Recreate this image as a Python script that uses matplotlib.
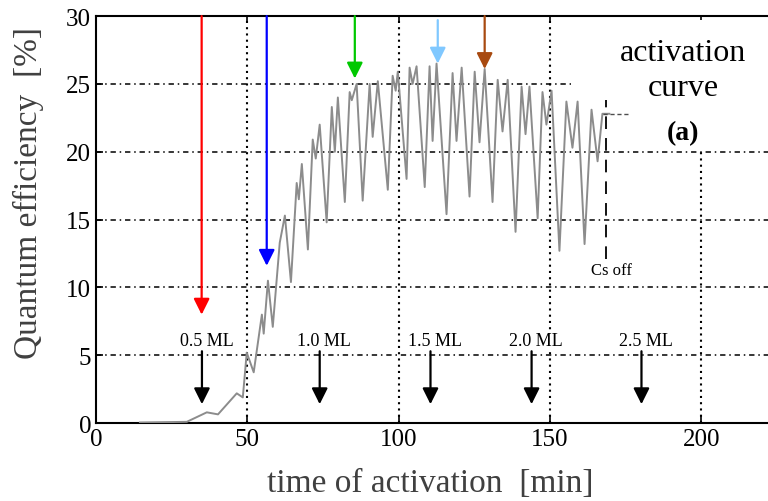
import numpy as np
import matplotlib.pyplot as plt
from matplotlib.patches import Rectangle

plt.rcParams['font.family'] = ['Liberation Serif', 'DejaVu Serif']

# activation curve: time [min] and quantum efficiency [%], read at turning points
t_curve = [14.5, 30.0, 36.6, 40.3, 46.5, 48.5, 49.8, 52.1, 54.8, 55.4,
           56.8, 58.4, 60.7, 62.4, 64.4, 66.3, 67.0, 68.0, 70.0, 71.6,
           72.6, 73.9, 76.2, 77.9, 78.9, 79.9, 82.2, 83.8, 84.5, 86.1,
           88.1, 90.4, 91.4, 93.1, 96.4, 98.0, 99.0, 99.7, 102.6, 103.6,
           104.6, 105.9, 108.6, 110.2, 111.2, 112.5, 115.8, 117.8, 119.1, 120.8,
           123.4, 125.1, 126.7, 128.4, 131.0, 132.7, 134.3, 136.0, 138.6, 140.6,
           141.9, 143.2, 145.9, 147.5, 148.8, 150.5, 153.1, 155.4, 157.4, 159.1,
           161.4, 163.7, 165.7, 167.3, 169.6]
qe_curve = [0.05, 0.1, 0.8, 0.65, 2.2, 1.9, 5.2, 3.75, 8.0, 6.6,
            10.5, 7.1, 13.3, 15.3, 10.4, 17.7, 16.5, 19.1, 12.8, 20.9,
            19.5, 22.0, 14.8, 23.3, 20.0, 24.0, 16.3, 24.4, 23.8, 25.0,
            16.4, 25.0, 21.1, 25.2, 17.2, 25.6, 24.5, 25.9, 18.0, 26.2,
            25.0, 26.3, 17.4, 26.3, 20.8, 26.5, 15.4, 25.8, 20.8, 26.2,
            16.7, 25.9, 20.7, 26.1, 16.3, 25.3, 21.5, 25.3, 14.1, 24.8,
            21.3, 24.8, 15.1, 24.4, 22.0, 24.5, 12.7, 23.7, 20.3, 23.7,
            13.2, 23.1, 19.3, 22.8, 22.8]

# coloured marker arrows: position, tip value, colour
mark_t = [34.9, 56.4, 85.5, 112.9, 128.4]
mark_tip = [8.0, 11.6, 25.4, 26.5, 26.1]
mark_start = [30, 30, 30, 29.7, 30]
mark_col = ['#ff0000', '#0000ff', '#00c800', '#80c8ff', '#a84a10']

# Cs coverage arrows
ml_t = [35.0, 73.9, 110.5, 143.9, 180.2]
ml_lab = ['0.5 ML', '1.0 ML', '1.5 ML', '2.0 ML', '2.5 ML']

cs_off_t = 168.6

fig = plt.figure(figsize=(7.68, 5.02), dpi=100)
ax = fig.add_axes([0.125, 0.155, 0.875, 0.811])
ax.set_xlim(0, 222)
ax.set_ylim(0, 30)

# grid
for y in [5, 10, 15, 20, 25]:
    ax.axhline(y, color='k', lw=1.1, ls=(0, (3.5, 2.5, 1, 2.5)), zorder=1)
for x in [50, 100, 150, 200]:
    ax.axvline(x, color='k', lw=1.5, ls=(0, (1, 2)), zorder=1)

# white box behind the title text
ax.add_patch(Rectangle((157, 20.3), 70, 9.4, facecolor='white', edgecolor='none', zorder=2))

ax.plot(t_curve, qe_curve, color='0.55', lw=1.4, zorder=4, solid_joinstyle='round')
ax.plot([167.5, 176.5], [22.8, 22.8], color='0.3', lw=1, ls=(0, (3, 2)), zorder=4)

# Cs off line
ax.plot([cs_off_t, cs_off_t], [12.1, 23.8], color='k', lw=1.3, ls=(0, (7, 5)), zorder=3)
ax.text(cs_off_t + 1.8, 11.3, 'Cs off', fontsize=12, ha='center', va='center', zorder=5)

for t, tip, s, c in zip(mark_t, mark_tip, mark_start, mark_col):
    ax.annotate('', xy=(t, tip), xytext=(t, s),
                arrowprops=dict(arrowstyle='-|>', color=c, lw=1.6, mutation_scale=24,
                                shrinkA=0, shrinkB=0), zorder=5)

for t, lab in zip(ml_t, ml_lab):
    ax.annotate('', xy=(t, 1.4), xytext=(t, 5.3),
                arrowprops=dict(arrowstyle='-|>', color='k', lw=1.6, mutation_scale=24,
                                shrinkA=0, shrinkB=0), zorder=5)
    ax.text(t + 1.5, 6.1, lab, fontsize=13, ha='center', va='center',
            bbox=dict(facecolor='white', edgecolor='none', pad=0.3), zorder=5)

ax.text(194, 27.3, 'activation', fontsize=23, ha='center', va='center', zorder=5)
ax.text(194, 24.7, 'curve', fontsize=23, ha='center', va='center', zorder=5)
ax.text(194, 21.4, '(a)', fontsize=20, fontweight='bold', ha='center', va='center', zorder=5)

ax.set_xticks([0, 50, 100, 150, 200])
ax.set_yticks([0, 5, 10, 15, 20, 25, 30])
ax.tick_params(direction='in', top=True, right=False, labelsize=18, length=5, width=1.2)
ax.spines['right'].set_visible(False)
for s in ['left', 'bottom', 'top']:
    ax.spines[s].set_linewidth(1.5)

ax.set_xlabel('time of activation  [min]', fontsize=24, color='0.25')
ax.set_ylabel('Quantum efficiency  [%]', fontsize=24, color='0.25')
ax.xaxis.set_label_coords(0.497, -0.108)
ax.yaxis.set_label_coords(-0.078, 0.567)

fig.savefig('out.png', dpi=100)
